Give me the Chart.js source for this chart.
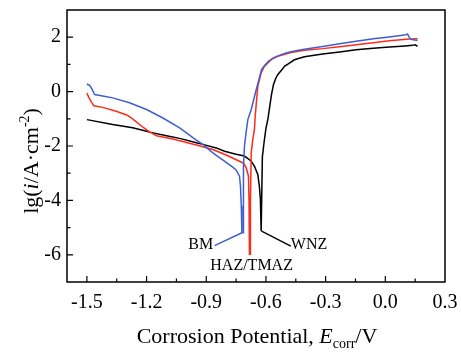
<!DOCTYPE html>
<html>
<head>
<meta charset="utf-8">
<script src="https://cdn.jsdelivr.net/npm/chart.js@4.4.1/dist/chart.umd.min.js"></script>
<style>
  html, body { margin: 0; padding: 0; background: #fff; }
  #wrap { width: 461px; height: 352px; }
</style>
</head>
<body>
<div id="wrap"><canvas id="myChart" width="461" height="352"></canvas></div>
<script>
// tick labels
const xTicks = [-1.5, -1.2, -0.9, -0.6, -0.3, 0.0, 0.3];
const yTicks = [-6, -4, -2, 0, 2];

// BM
const bmE  = [-1.500, -1.485, -1.475, -1.461, -1.420, -1.370, -1.286, -1.200, -1.118, -1.034, -0.950, -0.917, -0.867, -0.800, -0.767, -0.750, -0.733, -0.728, -0.724, -0.721,
              -0.713, -0.713, -0.708, -0.699, -0.691, -0.674, -0.649, -0.633, -0.622, -0.607, -0.585, -0.557, -0.520, -0.490, -0.450, -0.407, -0.315, -0.230, -0.147, -0.060, 0.020, 0.104, 0.112, 0.118, 0.129, 0.162];
const bmLg = [0.28, 0.22, 0.10, -0.11, -0.16, -0.23, -0.41, -0.66, -0.97, -1.33, -1.78, -1.94, -2.25, -2.60, -2.78, -2.88, -3.11, -3.48, -4.20, -5.17,
              -5.19, -2.74, -2.00, -1.45, -1.03, -0.66, 0.07, 0.50, 0.81, 0.96, 1.13, 1.26, 1.37, 1.44, 1.50, 1.56, 1.66, 1.76, 1.85, 1.94, 2.01, 2.09, 2.12, 2.02, 1.92, 1.88];

// HAZ/TMAZ
const hazE  = [-1.500, -1.490, -1.478, -1.465, -1.420, -1.353, -1.300, -1.270, -1.220, -1.185, -1.150, -1.068, -0.950, -0.917, -0.867, -0.800, -0.733, -0.712, -0.699, -0.688, -0.685, -0.683,
               -0.679, -0.678, -0.674, -0.666, -0.658, -0.654, -0.641, -0.624, -0.610, -0.599, -0.570, -0.541, -0.474, -0.407, -0.315, -0.230, -0.147, -0.060, 0.020, 0.120, 0.162];
const hazLg = [-0.05, -0.22, -0.38, -0.52, -0.58, -0.72, -0.86, -1.00, -1.30, -1.48, -1.62, -1.74, -1.96, -2.03, -2.13, -2.33, -2.56, -2.64, -2.80, -3.11, -4.00, -5.98,
               -5.98, -4.00, -2.25, -1.76, -1.40, -0.90, 0.19, 0.69, 0.90, 0.99, 1.20, 1.30, 1.44, 1.52, 1.58, 1.65, 1.72, 1.80, 1.87, 1.93, 1.94];

// WNZ
const wnzE  = [-1.500, -1.370, -1.270, -1.200, -1.185, -1.100, -1.034, -0.950, -0.917, -0.850, -0.808, -0.750, -0.708, -0.675, -0.658, -0.641, -0.633, -0.628, -0.624,
               -0.620, -0.618, -0.610, -0.600, -0.590, -0.582, -0.572, -0.562, -0.550, -0.541, -0.520, -0.507, -0.482, -0.457, -0.407, -0.315, -0.230, -0.147, -0.060, 0.020, 0.100, 0.137, 0.150, 0.162];
const wnzLg = [-1.03, -1.21, -1.33, -1.46, -1.49, -1.62, -1.72, -1.88, -1.94, -2.07, -2.19, -2.30, -2.37, -2.55, -2.74, -3.05, -3.48, -3.96, -5.13,
               -5.13, -2.40, -1.90, -1.35, -1.00, -0.60, -0.10, 0.26, 0.50, 0.62, 0.80, 0.93, 1.05, 1.17, 1.28, 1.38, 1.46, 1.54, 1.59, 1.64, 1.68, 1.70, 1.72, 1.66];

const seriesNames = ['BM', 'HAZ/TMAZ', 'WNZ'];
const seriesColors = ['#3f5fcf', '#ff2a1a', '#000000'];

const serif = '"Liberation Serif", "Times New Roman", serif';

function pairs(xs, ys) {
    return xs.map((x, i) => ({ x: x, y: ys[i] }));
}

// frame, inward ticks, axis titles and curve labels
const decor = {
    id: 'decor',
    afterDraw(chart) {
        const ctx = chart.ctx;
        const a = chart.chartArea;
        const xs = chart.scales.x, ys = chart.scales.y;
        ctx.save();
        ctx.strokeStyle = '#000';
        ctx.lineWidth = 1.5;
        ctx.strokeRect(a.left, a.top, a.right - a.left, a.bottom - a.top);

        ctx.lineWidth = 1.2;
        ctx.beginPath();
        for (let v = -1.5; v < 0.29; v += 0.15) {
            const px = xs.getPixelForValue(v);
            const major = Math.abs(Math.round(v / 0.3) * 0.3 - v) < 0.01;
            ctx.moveTo(px, a.bottom);
            ctx.lineTo(px, a.bottom - (major ? 6 : 3.5));
        }
        for (let v = -6; v <= 2; v += 1) {
            const py = ys.getPixelForValue(v);
            const major = v % 2 === 0;
            ctx.moveTo(a.left, py);
            ctx.lineTo(a.left + (major ? 6 : 3.5), py);
        }
        ctx.stroke();

        ctx.fillStyle = '#000';
        ctx.textBaseline = 'alphabetic';

        // x title
        const parts = [
            ['Corrosion Potential, ', '22px ' + serif, 0],
            ['E', 'italic 22px ' + serif, 0],
            ['corr', '14px ' + serif, 5],
            ['/V', '22px ' + serif, 0]
        ];
        drawParts(ctx, parts, (a.left + a.right) / 2 + 1, 343);

        // y title
        ctx.save();
        ctx.translate(30, 161);
        ctx.rotate(-Math.PI / 2);
        const yparts = [
            ['lg(', '22px ' + serif, 0],
            ['i', 'italic 22px ' + serif, 0],
            ['/A\u00b7cm', '22px ' + serif, 0],
            ['-2', '14px ' + serif, -9],
            [')', '22px ' + serif, 0]
        ];
        drawParts(ctx, yparts, 0, 8);
        ctx.restore();

        // curve labels with leaders
        ctx.font = '16px ' + serif;
        ctx.textBaseline = 'middle';
        ctx.textAlign = 'right';
        ctx.fillText(seriesNames[0], xs.getPixelForValue(-0.86) - 1, ys.getPixelForValue(-5.64));
        ctx.textAlign = 'left';
        ctx.fillText(seriesNames[2], xs.getPixelForValue(-0.475), ys.getPixelForValue(-5.64));
        ctx.textAlign = 'center';
        ctx.fillText(seriesNames[1], xs.getPixelForValue(-0.672), ys.getPixelForValue(-6.42));

        ctx.lineWidth = 1.4;
        ctx.strokeStyle = seriesColors[0];
        ctx.beginPath();
        ctx.moveTo(xs.getPixelForValue(-0.858), ys.getPixelForValue(-5.66));
        ctx.lineTo(xs.getPixelForValue(-0.718), ys.getPixelForValue(-5.18));
        ctx.stroke();
        ctx.strokeStyle = seriesColors[2];
        ctx.beginPath();
        ctx.moveTo(xs.getPixelForValue(-0.622), ys.getPixelForValue(-5.13));
        ctx.lineTo(xs.getPixelForValue(-0.475), ys.getPixelForValue(-5.68));
        ctx.stroke();
        ctx.restore();
    }
};

function drawParts(ctx, parts, cx, baseline) {
    let total = 0;
    parts.forEach(p => { ctx.font = p[1]; total += ctx.measureText(p[0]).width; });
    let x = cx - total / 2;
    ctx.textAlign = 'left';
    parts.forEach(p => {
        ctx.font = p[1];
        ctx.fillText(p[0], x, baseline + p[2]);
        x += ctx.measureText(p[0]).width;
    });
}

const ctx = document.getElementById('myChart');

new Chart(ctx, {
    type: 'scatter',
    data: {
        datasets: [
            { label: seriesNames[0], data: pairs(bmE, bmLg), borderColor: seriesColors[0] },
            { label: seriesNames[1], data: pairs(hazE, hazLg), borderColor: seriesColors[1] },
            { label: seriesNames[2], data: pairs(wnzE, wnzLg), borderColor: seriesColors[2] }
        ].map(d => Object.assign(d, { showLine: true, pointRadius: 0, borderWidth: 1.5, tension: 0, fill: false }))
    },
    options: {
        responsive: false,
        animation: false,
        layout: { padding: { top: 10, right: 16, left: 0, bottom: 0 } },
        plugins: { legend: { display: false }, tooltip: { enabled: false } },
        scales: {
            x: {
                type: 'linear',
                min: -1.6,
                max: 0.3,
                grid: { display: false, drawTicks: false, tickLength: 0 },
                border: { display: false },
                afterBuildTicks: s => { s.ticks = xTicks.map(v => ({ value: v })); },
                afterFit: s => { s.height = 70; s.paddingLeft = 0; s.paddingRight = 0; },
                ticks: {
                    padding: 9,
                    color: '#000',
                    font: { family: serif, size: 20 },
                    maxRotation: 0,
                    callback: v => v.toFixed(1)
                }
            },
            y: {
                type: 'linear',
                min: -7,
                max: 3,
                grid: { display: false, drawTicks: false, tickLength: 0 },
                border: { display: false },
                afterBuildTicks: s => { s.ticks = yTicks.map(v => ({ value: v })); },
                afterFit: s => { s.width = 67; s.paddingTop = 0; s.paddingBottom = 0; },
                ticks: {
                    padding: 6,
                    color: '#000',
                    font: { family: serif, size: 20 },
                    callback: v => String(v)
                }
            }
        }
    },
    plugins: [decor]
});
</script>
</body>
</html>
